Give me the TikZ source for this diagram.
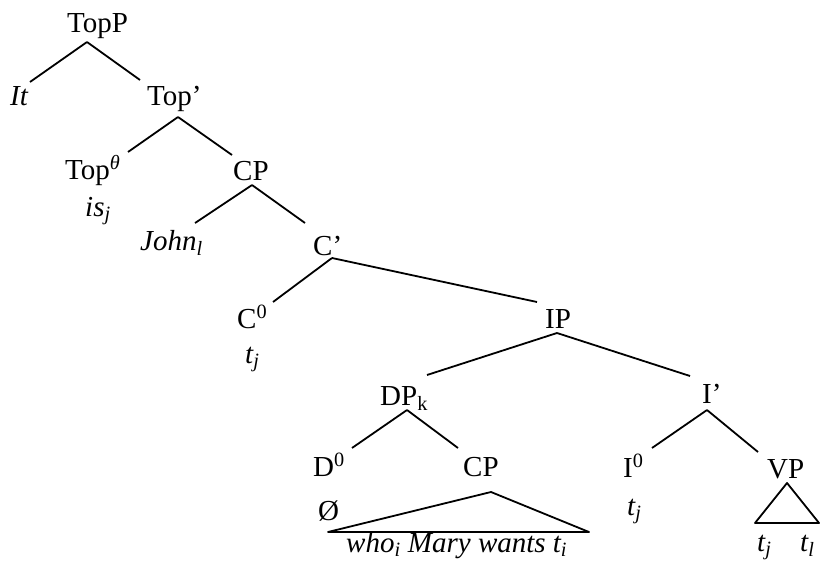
\documentclass[tikz,border=0pt]{standalone}
\usepackage{fontspec}
\setmainfont{Liberation Serif}
\begin{document}
\begin{tikzpicture}[x=1pt,y=-1pt,
  lbl/.style={anchor=base west,inner sep=0pt,font=\fontsize{29}{34}\selectfont},
  edge/.style={line width=1.8pt,line join=round}]
\useasboundingbox (0,0) rectangle (821,562);
% nodes
\node[lbl] (TopP) at (67,32) {TopP};
\node[lbl] (It) at (10,105) {\textit{It}};
\node[lbl] (Topbar) at (147,105) {Top’};
\node[lbl] (Top0) at (65,179) {Top\textsuperscript{\textit{θ}}};
\node[lbl] (CPa) at (233,180) {CP};
\node[lbl] (is) at (85,216) {\textit{is\textsubscript{j}}};
\node[lbl] (John) at (140,250) {\textit{John\textsubscript{l}}};
\node[lbl] (Cbar) at (313,255) {C’};
\node[lbl] (C0) at (237,328) {C\textsuperscript{0}};
\node[lbl] (tja) at (245,363) {\textit{t\textsubscript{j}}};
\node[lbl] (IP) at (545,328) {IP};
\node[lbl] (DP) at (380,405) {DP\textsubscript{k}};
\node[lbl] (Ibar) at (702,403) {I’};
\node[lbl] (D0) at (313,476) {D\textsuperscript{0}};
\node[lbl] (CPb) at (463,476) {CP};
\node[lbl] (I0) at (623,477) {I\textsuperscript{0}};
\node[lbl] (VP) at (767,478) {VP};
\node[lbl] (empty) at (318,520) {Ø};
\node[lbl] (tjb) at (627,515) {\textit{t\textsubscript{j}}};
\node[lbl] (who) at (346,552) {\textit{who\textsubscript{i} Mary wants t\textsubscript{i}}};
\node[lbl] (tjc) at (757,551) {\textit{t\textsubscript{j}}};
\node[lbl] (tl) at (800,551) {\textit{t\textsubscript{l}}};
% connectors
\draw[edge] ([shift={(20,10)}]TopP.base west) -- ([shift={(20,-23)}]It.base west);
\draw[edge] ([shift={(20,10)}]TopP.base west) -- ([shift={(-7,-25)}]Topbar.base west);
\draw[edge] ([shift={(31,12)}]Topbar.base west) -- ([shift={(63,-27)}]Top0.base west);
\draw[edge] ([shift={(31,12)}]Topbar.base west) -- ([shift={(-1,-25)}]CPa.base west);
\draw[edge] ([shift={(19,5)}]CPa.base west) -- ([shift={(55,-27)}]John.base west);
\draw[edge] ([shift={(19,5)}]CPa.base west) -- ([shift={(-8,-32)}]Cbar.base west);
\draw[edge] ([shift={(19,3)}]Cbar.base west) -- ([shift={(36,-26)}]C0.base west);
\draw[edge] ([shift={(19,3)}]Cbar.base west) -- ([shift={(-8,-26)}]IP.base west);
\draw[edge] ([shift={(12,5)}]IP.base west) -- ([shift={(47,-30)}]DP.base west);
\draw[edge] ([shift={(12,5)}]IP.base west) -- ([shift={(-12,-27)}]Ibar.base west);
\draw[edge] ([shift={(27,5)}]DP.base west) -- ([shift={(39,-28)}]D0.base west);
\draw[edge] ([shift={(27,5)}]DP.base west) -- ([shift={(-5,-28)}]CPb.base west);
\draw[edge] ([shift={(5,7)}]Ibar.base west) -- ([shift={(29,-29)}]I0.base west);
\draw[edge] ([shift={(5,7)}]Ibar.base west) -- ([shift={(-9,-26)}]VP.base west);
\draw[edge] ([shift={(28,16)}]CPb.base west) -- ([shift={(-135,56)}]CPb.base west)
  -- ([shift={(126,56)}]CPb.base west) -- cycle;
\draw[edge] ([shift={(20,5)}]VP.base west) -- ([shift={(-12,45)}]VP.base west)
  -- ([shift={(52,45)}]VP.base west) -- cycle;
\end{tikzpicture}
\end{document}
